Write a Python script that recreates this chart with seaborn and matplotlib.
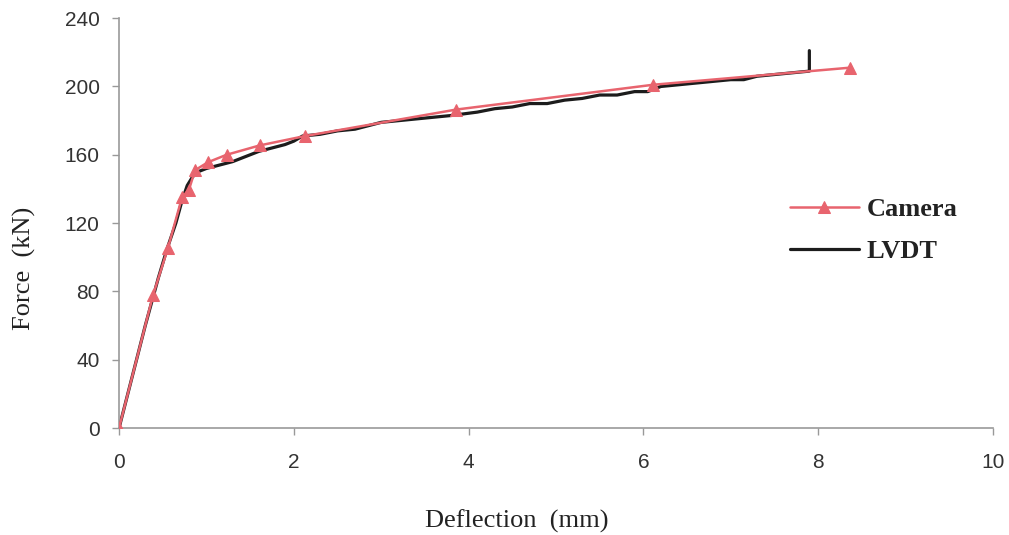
import matplotlib
matplotlib.use("Agg")
import matplotlib.pyplot as plt
import seaborn as sns
import pandas as pd

camera_x = [0, 0.39, 0.56, 0.72, 0.80, 0.87, 1.02, 1.23, 1.61, 2.13, 3.86, 6.11, 8.36]
camera_f = [0, 78, 105.5, 135, 139.6, 151, 155.7, 160, 165.5, 171, 186.5, 201, 211]

lvdt_x = [0, 0.15, 0.30, 0.45, 0.55, 0.65, 0.72, 0.78, 0.84, 0.90, 1.00, 1.15, 1.30, 1.45, 1.60,
          1.75, 1.90, 2.00, 2.10, 2.30, 2.50, 2.70, 2.85, 3.00, 3.20, 3.40, 3.60, 3.80, 3.95, 4.10,
          4.30, 4.50, 4.70, 4.90, 5.10, 5.30, 5.50, 5.70, 5.90, 6.05, 6.20, 6.40, 6.60, 6.80, 7.00,
          7.15, 7.30, 7.50, 7.70, 7.90, 7.90]
lvdt_f = [0, 30, 60, 88, 105, 120, 133, 142, 147, 150, 152, 154, 156, 159, 162,
          164, 166, 168, 171, 172, 174, 175, 177, 179, 180, 181, 182, 183, 184, 185,
          187, 188, 190, 190, 192, 193, 195, 195, 197, 197, 200, 201, 202, 203, 204,
          204, 206, 207, 208, 209, 221]

series_names = ["Camera", "LVDT"]
x_ticks = [0, 2, 4, 6, 8, 10]
y_ticks = [0, 40, 80, 120, 160, 200, 240]

df_cam = pd.DataFrame({"x": camera_x, "f": camera_f})
df_lv = pd.DataFrame({"x": lvdt_x, "f": lvdt_f})

sns.set_style("ticks")
plt.rcParams["font.family"] = ["Liberation Sans", "DejaVu Sans"]

fig = plt.figure(figsize=(10.09, 5.35), dpi=100)
ax = fig.add_axes([0.118, 0.2, 0.866, 0.766])

cam_color = "#e8646e"
sns.lineplot(data=df_lv, x="x", y="f", sort=False, estimator=None, color="#1c1c1c",
             linewidth=2.3, label=series_names[1], ax=ax, zorder=2)
sns.lineplot(data=df_cam, x="x", y="f", sort=False, estimator=None, color=cam_color,
             linewidth=1.8, marker="^", markersize=9, markeredgecolor=cam_color,
             markerfacecolor=cam_color, label=series_names[0], ax=ax, zorder=3)

ax.set_xlim(0, 10)
ax.set_ylim(0, 240)
ax.set_xticks(x_ticks)
ax.set_yticks(y_ticks)
ax.tick_params(axis="both", labelsize=15, labelcolor="#333333", color="#999999",
               length=5, width=1, direction="out")
ax.tick_params(axis="x", pad=13)
ax.tick_params(axis="y", pad=9)
for s in ["left", "bottom"]:
    ax.spines[s].set_color("#999999")
    ax.spines[s].set_linewidth(1.2)
for s in ["top", "right"]:
    ax.spines[s].set_visible(False)

ax.set_xlabel("Deflection  (mm)", fontsize=19, family="Liberation Serif", color="#222222")
ax.set_ylabel("Force  (kN)", fontsize=19, family="Liberation Serif", color="#222222")
ax.xaxis.set_label_coords(0.455, -0.2)
ax.yaxis.set_label_coords(-0.095, 0.39)

handles, labels = ax.get_legend_handles_labels()
order = [labels.index("Camera"), labels.index("LVDT")]
leg = ax.legend([handles[i] for i in order], [labels[i] for i in order],
                loc="center left", bbox_to_anchor=(0.768, 0.483), frameon=False,
                prop={"family": "Liberation Serif", "weight": "bold", "size": 19},
                handlelength=2.6, labelspacing=0.7, handletextpad=0.3,
                borderaxespad=0, borderpad=0)
for t in leg.get_texts():
    t.set_color("#222222")

fig.savefig("out.png", dpi=100, facecolor="white")
